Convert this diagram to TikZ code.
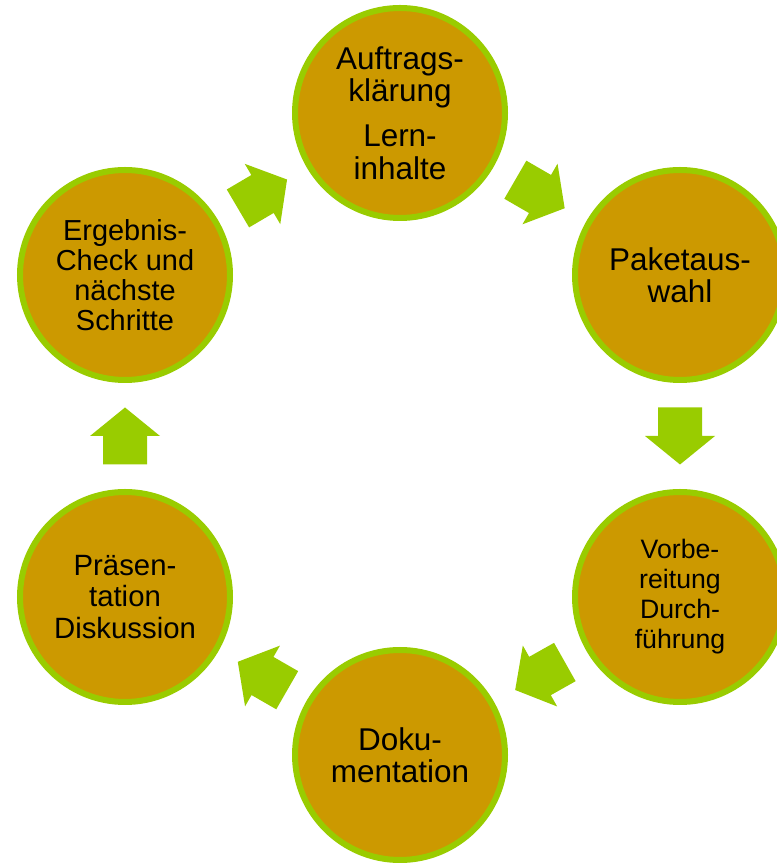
\documentclass[tikz,border=0pt]{standalone}
\usepackage{fontspec}
\setmainfont{Liberation Sans}
\usetikzlibrary{calc}
\definecolor{stepfill}{HTML}{CC9900}
\definecolor{stepgreen}{HTML}{99CC00}
\begin{document}
\begin{tikzpicture}[x=0.75pt,y=0.75pt,
  stepcircle/.style={circle,fill=stepfill,draw=stepgreen,line width=4.5pt,
    minimum size=157.5pt,inner sep=0pt,align=center,text=black},
  blockarrow/.style={fill=stepgreen,draw=none}]
\useasboundingbox (0,0) rectangle (777,863);
\node[stepcircle,font=\fontsize{23.6pt}{24.5pt}\selectfont] (top) at (400,750)
  {Auftrags-\\klärung\\[9pt]Lern-\\inhalte};
\node[stepcircle,font=\fontsize{23.6pt}{24.2pt}\selectfont] (ru) at (680,588)
  {Paketaus-\\wahl};
\node[stepcircle,font=\fontsize{20pt}{22.5pt}\selectfont] (rl) at (680,266)
  {Vorbe-\\reitung\\Durch-\\führung};
\node[stepcircle,font=\fontsize{23.6pt}{24pt}\selectfont] (bot) at (400,108)
  {Doku-\\mentation};
\node[stepcircle,font=\fontsize{22pt}{23.6pt}\selectfont] (ll) at (125,266)
  {Präsen-\\tation\\Diskussion};
\node[stepcircle,font=\fontsize{21.7pt}{22.5pt}\selectfont] (lu) at (125,588)
  {Ergebnis-\\Check und\\nächste\\Schritte};
\foreach \fa/\fb/\fr in {lu/top/30.5,top/ru/-30.05,ru/rl/-90,rl/bot/209.4,bot/ll/150.1,ll/lu/90}{
  \begin{scope}[shift={($(\fa)!0.5!(\fb)$)},rotate=\fr]
    \fill[blockarrow] (-28.5,-22) -- (0,-22) -- (0,-35) -- (28.5,0)
      -- (0,35) -- (0,22) -- (-28.5,22) -- cycle;
  \end{scope}
}
\end{tikzpicture}
\end{document}
